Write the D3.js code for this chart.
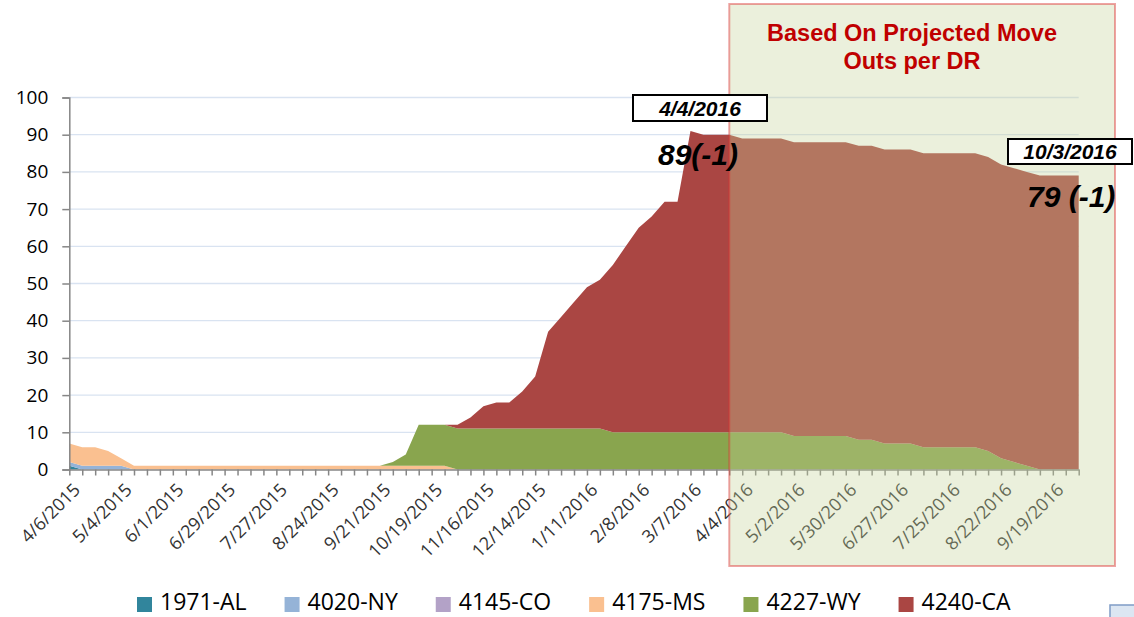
<!DOCTYPE html>
<html lang="en">
<head>
<meta charset="utf-8">
<title>Move outs by DR</title>
<script type="text/javascript" src="https://d3js.org/d3.v7.min.js"></script>
<style type="text/css">
  body { margin: 0; background: #fff; }
  svg { display: block; }
  .ytick text { font-family: "Open Sans", sans-serif; font-size: 19px; fill: #000; }
  .xtick text { font-family: "Open Sans", sans-serif; font-size: 18px; fill: #333; }
  .legend text { font-family: "Open Sans", sans-serif; font-size: 23px; fill: #000; }
</style>
</head>
<body>
<script type="text/javascript">
// weekly dates (Mondays)
var weeks = ["4/6/2015","4/13/2015","4/20/2015","4/27/2015","5/4/2015","5/11/2015","5/18/2015","5/25/2015",
  "6/1/2015","6/8/2015","6/15/2015","6/22/2015","6/29/2015","7/6/2015","7/13/2015","7/20/2015",
  "7/27/2015","8/3/2015","8/10/2015","8/17/2015","8/24/2015","8/31/2015","9/7/2015","9/14/2015",
  "9/21/2015","9/28/2015","10/5/2015","10/12/2015","10/19/2015","10/26/2015","11/2/2015","11/9/2015",
  "11/16/2015","11/23/2015","11/30/2015","12/7/2015","12/14/2015","12/21/2015","12/28/2015","1/4/2016",
  "1/11/2016","1/18/2016","1/25/2016","2/1/2016","2/8/2016","2/15/2016","2/22/2016","2/29/2016",
  "3/7/2016","3/14/2016","3/21/2016","3/28/2016","4/4/2016","4/11/2016","4/18/2016","4/25/2016",
  "5/2/2016","5/9/2016","5/16/2016","5/23/2016","5/30/2016","6/6/2016","6/13/2016","6/20/2016",
  "6/27/2016","7/4/2016","7/11/2016","7/18/2016","7/25/2016","8/1/2016","8/8/2016","8/15/2016",
  "8/22/2016","8/29/2016","9/5/2016","9/12/2016","9/19/2016","9/26/2016","10/3/2016"];

var seriesNames = ["1971-AL","4020-NY","4145-CO","4175-MS","4227-WY","4240-CA"];
var seriesColors = ["#31859C","#95B3D7","#B3A2C7","#FAC090","#89A54E","#AA4643"];

var al = [1,0,0,0,0,0,0,0,0,0, 0,0,0,0,0,0,0,0,0,0, 0,0,0,0,0,0,0,0,0,0, 0,0,0,0,0,0,0,0,0,0,
          0,0,0,0,0,0,0,0,0,0, 0,0,0,0,0,0,0,0,0,0, 0,0,0,0,0,0,0,0,0,0, 0,0,0,0,0,0,0,0,0];
var ny = [1,1,1,1,1,0,0,0,0,0, 0,0,0,0,0,0,0,0,0,0, 0,0,0,0,0,0,0,0,0,0, 0,0,0,0,0,0,0,0,0,0,
          0,0,0,0,0,0,0,0,0,0, 0,0,0,0,0,0,0,0,0,0, 0,0,0,0,0,0,0,0,0,0, 0,0,0,0,0,0,0,0,0];
var co = [0,0,0,0,0,0,0,0,0,0, 0,0,0,0,0,0,0,0,0,0, 0,0,0,0,0,0,0,0,0,0, 0,0,0,0,0,0,0,0,0,0,
          0,0,0,0,0,0,0,0,0,0, 0,0,0,0,0,0,0,0,0,0, 0,0,0,0,0,0,0,0,0,0, 0,0,0,0,0,0,0,0,0];
var ms = [5,5,5,4,2,1,1,1,1,1, 1,1,1,1,1,1,1,1,1,1, 1,1,1,1,1,1,1,1,1,1, 0,0,0,0,0,0,0,0,0,0,
          0,0,0,0,0,0,0,0,0,0, 0,0,0,0,0,0,0,0,0,0, 0,0,0,0,0,0,0,0,0,0, 0,0,0,0,0,0,0,0,0];
var wy = [0,0,0,0,0,0,0,0,0,0, 0,0,0,0,0,0,0,0,0,0, 0,0,0,0,0,1,3,11,11,11, 11,11,11,11,11,11,11,11,11,11,
          11,11,10,10,10,10,10,10,10,10, 10,10,10,10,10,10,9,9,9,9, 9,8,8,7,7,7,6,6,6,6, 6,5,3,2,1,0,0,0,0];
var ca = [0,0,0,0,0,0,0,0,0,0, 0,0,0,0,0,0,0,0,0,0, 0,0,0,0,0,0,0,0,0,0, 1,3,6,7,7,10,14,26,30,34,
          38,40,45,50,55,58,62,62,81,80, 80,80,79,79,79,79,79,79,79,79, 79,79,79,79,79,79,79,79,79,79, 79,79,79,79,79,79,79,79,79];

var yTicks = [0,10,20,30,40,50,60,70,80,90,100];
var projectedFrom = "3/28/2016";

// build rows for the stack
var table = weeks.map(function(w, i) {
  return {week: w, "1971-AL": al[i], "4020-NY": ny[i], "4145-CO": co[i],
          "4175-MS": ms[i], "4227-WY": wy[i], "4240-CA": ca[i]};
});

var W = 1134, H = 617;
var svg = d3.select("body").append("svg").attr("width", W).attr("height", H);

var x = d3.scalePoint().domain(weeks).range([69.3, 1078.7]);
var y = d3.scaleLinear().domain([0, 100]).range([469.5, 97.5]);

// gridlines
svg.append("g").selectAll("line")
  .data(yTicks.slice(1))
  .enter().append("line")
  .attr("x1", x.range()[0]).attr("x2", x.range()[1])
  .attr("y1", function(d) { return y(d); }).attr("y2", function(d) { return y(d); })
  .attr("stroke", "#D9E3F1").attr("stroke-width", 1.3);

// stacked areas
var stack = d3.stack().keys(seriesNames);
var layers = stack(table);
var area = d3.area()
  .x(function(d) { return x(d.data.week); })
  .y0(function(d) { return y(d[0]); })
  .y1(function(d) { return y(d[1]); });

svg.append("g").selectAll("path")
  .data(layers)
  .enter().append("path")
  .attr("d", area)
  .attr("fill", function(d, i) { return seriesColors[i]; });

// y axis
var yAxis = svg.append("g")
  .attr("class", "ytick")
  .attr("transform", "translate(" + x.range()[0] + ",0)")
  .call(d3.axisLeft(y).tickValues(yTicks).tickSize(7).tickPadding(14));
yAxis.select(".domain").attr("stroke", "#868686").attr("stroke-width", 1.5);
yAxis.selectAll(".tick line").attr("stroke", "#868686").attr("stroke-width", 1.5);

// x axis
var xAxis = svg.append("g")
  .attr("class", "xtick")
  .attr("transform", "translate(0," + y(0) + ")")
  .call(d3.axisBottom(x).tickSize(6).tickSizeOuter(0)
    .tickFormat(function(d, i) { return i % 4 === 0 ? d : ""; }));
xAxis.select(".domain").attr("stroke", "#868686").attr("stroke-width", 1.5);
xAxis.selectAll(".tick line").attr("stroke", "#868686").attr("stroke-width", 1.5);
xAxis.selectAll(".tick text")
  .attr("x", 0).attr("y", 0).attr("dy", "0.35em")
  .attr("text-anchor", "end")
  .attr("transform", "translate(7,17) rotate(-45)");

// projected region overlay
var boxLeft = x(projectedFrom);
svg.append("rect")
  .attr("x", boxLeft).attr("y", 4)
  .attr("width", 1115 - boxLeft).attr("height", 562)
  .attr("fill", "rgb(196,211,152)").attr("fill-opacity", 0.34)
  .attr("stroke", "rgba(220,50,50,0.45)").attr("stroke-width", 2);

svg.append("text")
  .attr("x", 912).attr("y", 41)
  .attr("text-anchor", "middle")
  .attr("font-family", "Liberation Sans, Arial, sans-serif")
  .attr("font-weight", "bold").attr("font-size", "23.5px")
  .attr("fill", "#C00000")
  .text("Based On Projected Move");
svg.append("text")
  .attr("x", 912).attr("y", 69)
  .attr("text-anchor", "middle")
  .attr("font-family", "Liberation Sans, Arial, sans-serif")
  .attr("font-weight", "bold").attr("font-size", "23.5px")
  .attr("fill", "#C00000")
  .text("Outs per DR");

// callouts
function callout(cx, top, w, h, label) {
  svg.append("rect")
    .attr("x", cx - w / 2).attr("y", top).attr("width", w).attr("height", h)
    .attr("fill", "#fff").attr("stroke", "#000").attr("stroke-width", 2);
  svg.append("text")
    .attr("x", cx).attr("y", top + h - 5)
    .attr("text-anchor", "middle")
    .attr("font-family", "Liberation Sans, Arial, sans-serif")
    .attr("font-weight", "bold").attr("font-style", "italic").attr("font-size", "21px")
    .text(label);
}
callout(700, 95, 134, 26, "4/4/2016");
callout(1070, 139, 124, 25, "10/3/2016");

svg.append("text")
  .attr("x", 658).attr("y", 165)
  .attr("font-family", "Liberation Sans, Arial, sans-serif")
  .attr("font-weight", "bold").attr("font-style", "italic").attr("font-size", "30px")
  .text("89(-1)");
svg.append("text")
  .attr("x", 1027).attr("y", 207)
  .attr("font-family", "Liberation Sans, Arial, sans-serif")
  .attr("font-weight", "bold").attr("font-style", "italic").attr("font-size", "30px")
  .text("79 (-1)");

// legend
var legend = svg.append("g").attr("class", "legend");
var lx = 137;
seriesNames.forEach(function(name, i) {
  legend.append("rect")
    .attr("x", lx).attr("y", 597).attr("width", 15).attr("height", 15)
    .attr("fill", seriesColors[i]);
  var t = legend.append("text")
    .attr("x", lx + 23).attr("y", 610)
    .text(name);
  lx += 23 + t.node().getComputedTextLength() + 38;
});

// stray box at bottom right
svg.append("rect")
  .attr("x", 1110).attr("y", 605).attr("width", 40).attr("height", 30)
  .attr("fill", "#DCE6F2").attr("stroke", "#7F9CC6").attr("stroke-width", 1.5);
</script>
</body>
</html>
